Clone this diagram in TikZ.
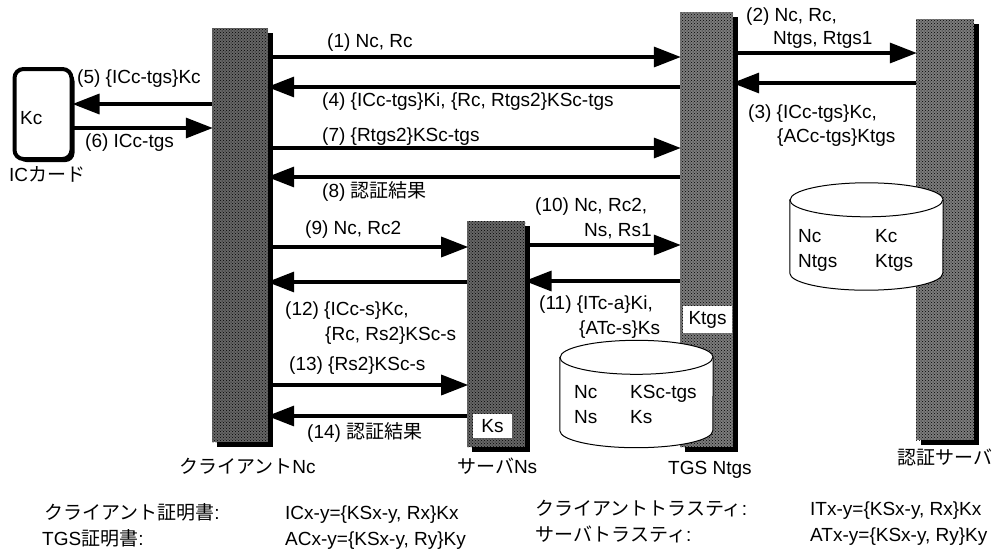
\documentclass[tikz,border=0pt]{standalone}
\usepackage{fontspec}
\usepackage{xcolor}
\usetikzlibrary{positioning,arrows.meta,shadows,patterns}
\setmainfont{Liberation Sans}
\newfontfamily\cjk{Noto Sans CJK JP}
\definecolor{barblack}{RGB}{102,102,102}
\definecolor{bargray}{RGB}{124,124,124}
\tikzset{
  bar/.style={draw=none, rectangle, fill=barblack, inner sep=0pt, minimum width=#1,
    drop shadow={shadow xshift=5pt, shadow yshift=-5pt, fill=black, opacity=1},
    postaction={pattern=crosshatch dots, pattern color=black}},
  msg/.style={line width=3.4pt, -{Triangle[length=27pt, width=20pt]}, shorten >=-1pt},
  lbl/.style={inner sep=0pt, anchor=west, text height=14pt, text depth=1pt, font=\fontsize{19}{22}\selectfont},
  keybox/.style={rectangle, fill=white, inner sep=0pt, font=\fontsize{19}{22}\selectfont},
  drum/.style={rectangle, inner sep=0pt, minimum width=153pt, minimum height=107pt},
  drumline/.style={draw, fill=white, line width=1pt},
}
\begin{document}
\begin{tikzpicture}[x=1pt, y=-1pt]
\useasboundingbox (0,0) rectangle (995,550);
% Nodes
\node[bar=56pt, minimum height=414pt] (client) at (240,235) {};
\node[bar=58pt, minimum height=226pt, below right=0pt and 0pt of client.north east, xshift=199pt, yshift=-193pt] (server) {};
\node[bar=53pt, minimum height=435pt, fill=bargray] (tgs) at (706.5,229.5) {};
\node[bar=58pt, minimum height=421pt, fill=bargray] (auth) at (945,229.5) {};
\node[draw, rectangle, rounded corners=9pt, fill=white, line width=4pt, minimum width=57pt, minimum height=90pt,
  drop shadow={shadow xshift=3pt, shadow yshift=-3pt, fill=black, opacity=1}] (card) at (43,114) {};
\node[keybox, minimum width=49pt, minimum height=27pt] (ktgs) at (707.5,319.5) {Ktgs};
\node[keybox, minimum width=39pt, minimum height=24pt] (ks) at (492.5,426) {Ks};
\node[drum] (authdb) at (866.5,236.5) {};
\node[drum] (tgsdb) at (636.5,394) {};

% Drums
\foreach \db in {authdb,tgsdb} {
  \draw[drumline] ([yshift=-17pt]\db.north west) -- ([yshift=17pt]\db.south west)
    arc[start angle=180, end angle=360, x radius=76.5pt, y radius=17pt]
    -- ([yshift=-17pt]\db.north east)
    arc[start angle=0, end angle=180, x radius=76.5pt, y radius=17pt] -- cycle;
  \draw[line width=1pt] ([yshift=-17pt]\db.north west)
    arc[start angle=180, end angle=360, x radius=76.5pt, y radius=17pt];
}

% Arrows
\draw[msg] (client.east |- 0,57) -- (tgs.west |- 0,57);
\draw[msg] (tgs.east |- 0,53) -- (auth.west |- 0,53);
\draw[msg] (auth.west |- 0,83) -- (tgs.east |- 0,83);
\draw[msg] (tgs.west |- 0,87) -- (client.east |- 0,87);
\draw[msg] (client.west |- 0,104) -- (card.east |- 0,104);
\draw[msg] (card.east |- 0,128) -- (client.west |- 0,128);
\draw[msg] (client.east |- 0,148) -- (tgs.west |- 0,148);
\draw[msg] (tgs.west |- 0,177) -- (client.east |- 0,177);
\draw[msg] (client.east |- 0,247) -- (server.west |- 0,247);
\draw[msg] (server.east |- 0,245) -- (tgs.west |- 0,245);
\draw[msg] (tgs.west |- 0,281) -- (server.east |- 0,281);
\draw[msg] (server.west |- 0,282) -- (client.east |- 0,282);
\draw[msg] (client.east |- 0,385) -- (server.west |- 0,385);
\draw[msg] (server.west |- 0,416) -- (client.east |- 0,416);

% Labels
\node[lbl] (m1) at (327,41) {(1) Nc, Rc};
\node[lbl] (m2) at (746,15) {(2) Nc, Rc,};
\node[lbl] (m2b) at (773,38) {Ntgs, Rtgs1};
\node[lbl] (m3) at (748,112) {(3) \{ICc-tgs\}Kc,};
\node[lbl] (m3b) at (777,136) {\{ACc-tgs\}Ktgs};
\node[lbl] (m4) at (322,100) {(4) \{ICc-tgs\}Ki, \{Rc, Rtgs2\}KSc-tgs};
\node[lbl] (m5) at (77,77) {(5) \{ICc-tgs\}Kc};
\node[lbl] (m6) at (85,141) {(6) ICc-tgs};
\node[lbl] (m7) at (322,135) {(7) \{Rtgs2\}KSc-tgs};
\node[lbl] (m8) at (322,191) {(8) {\cjk 認証結果}};
\node[lbl] (m9) at (305,228) {(9) Nc, Rc2};
\node[lbl] (m10) at (535,205) {(10) Nc, Rc2,};
\node[lbl] (m10b) at (584,230) {Ns, Rs1};
\node[lbl] (m11) at (539,303) {(11) \{ITc-a\}Ki,};
\node[lbl] (m11b) at (579,328) {\{ATc-s\}Ks};
\node[lbl] (m12) at (285,309) {(12) \{ICc-s\}Kc,};
\node[lbl] (m12b) at (325,334) {\{Rc, Rs2\}KSc-s};
\node[lbl] (m13) at (289,364) {(13) \{Rs2\}KSc-s};
\node[lbl] (m14) at (307,432) {(14) {\cjk 認証結果}};

\node[lbl] (kc) at (20,118) {Kc};
\node[lbl] (cardname) at (9,175) {IC{\cjk カード}};
\node[lbl] (clientname) at (179,467) {{\cjk クライアント}Nc};
\node[lbl] (servername) at (457,467) {{\cjk サーバ}Ns};
\node[lbl] (tgsname) at (668,468) {TGS Ntgs};
\node[lbl] (authname) at (897,458) {{\cjk 認証サーバ}};

% Drum contents
\node[lbl] (a1) at (798,236) {Nc};
\node[lbl] (a2) at (875,236) {Kc};
\node[lbl] (a3) at (798,261) {Ntgs};
\node[lbl] (a4) at (875,261) {Ktgs};
\node[lbl] (t1) at (574,392) {Nc};
\node[lbl] (t2) at (630,392) {KSc-tgs};
\node[lbl] (t3) at (574,417) {Ns};
\node[lbl] (t4) at (630,417) {Ks};

% Legend
\node[lbl] (l1) at (44,513) {{\cjk クライアント証明書}:};
\node[lbl] (l2) at (42,539) {TGS{\cjk 証明書}:};
\node[lbl] (l3) at (285,513) {ICx-y=\{KSx-y, Rx\}Kx};
\node[lbl] (l4) at (285,539) {ACx-y=\{KSx-y, Ry\}Ky};
\node[lbl] (l5) at (535,509) {{\cjk クライアントトラスティ}:};
\node[lbl] (l6) at (535,535) {{\cjk サーバトラスティ}:};
\node[lbl] (l7) at (810,509) {ITx-y=\{KSx-y, Rx\}Kx};
\node[lbl] (l8) at (810,535) {ATx-y=\{KSx-y, Ry\}Ky};
\end{tikzpicture}
\end{document}
